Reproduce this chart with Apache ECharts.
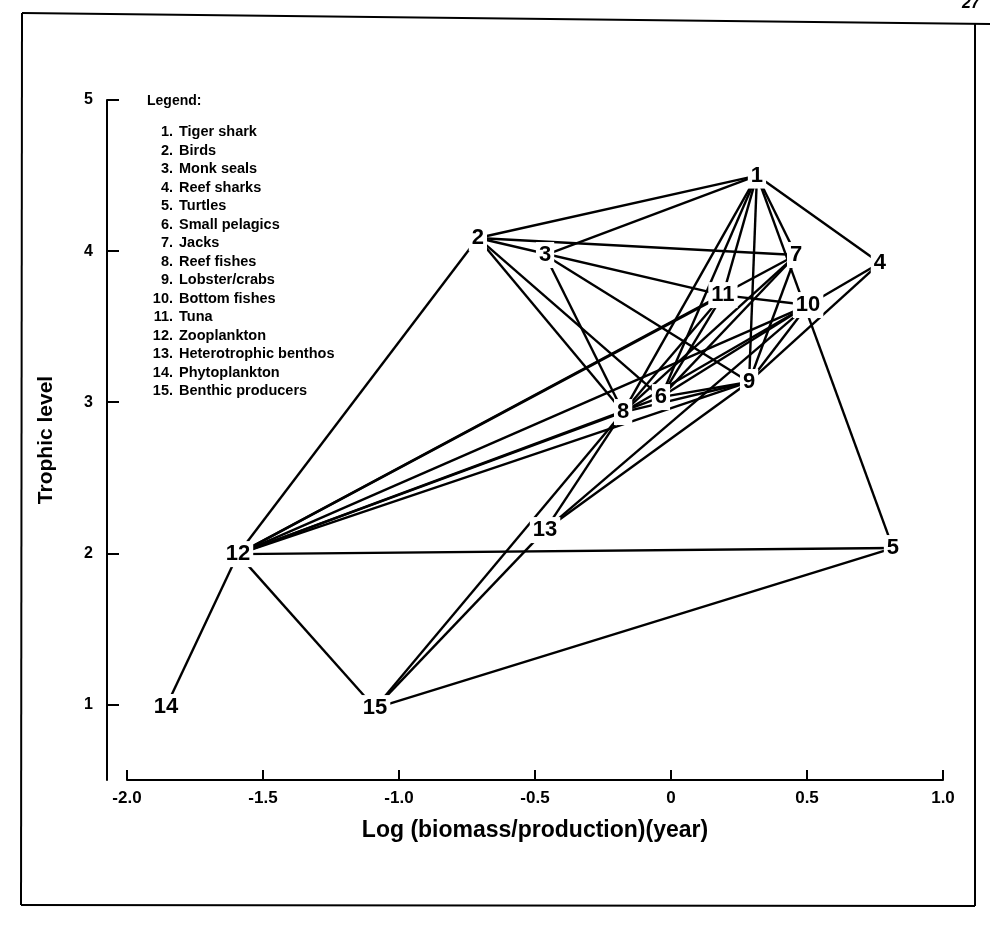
<!DOCTYPE html>
<html><head><meta charset="utf-8">
<script src="https://cdn.jsdelivr.net/npm/echarts@6/dist/echarts.min.js"></script>
<style>html,body{margin:0;padding:0;background:#fff}#c{width:990px;height:929px}</style>
</head><body><div id="c"></div>
<script>
// ---- data ----
const nodeIds = ['1','2','3','4','5','6','7','8','9','10','11','12','13','14','15'];
const nodeNames = ['Tiger shark','Birds','Monk seals','Reef sharks','Turtles','Small pelagics','Jacks','Reef fishes','Lobster/crabs','Bottom fishes','Tuna','Zooplankton','Heterotrophic benthos','Phytoplankton','Benthic producers'];
const logBP   = [0.316, -0.710, -0.463, 0.768, 0.816, -0.037, 0.460, -0.176, 0.287, 0.504, 0.191, -1.592, -0.463, -1.857, -1.088];
const trophic = [4.50, 4.087, 3.974, 3.921, 2.035, 3.034, 3.974, 2.935, 3.134, 3.643, 3.709, 1.995, 2.154, 0.983, 0.976];
const links = [
  [1,2],[1,3],[1,4],[1,5],[1,7],[1,11],[1,9],[1,6],[1,8],
  [2,7],[2,11],[11,10],[2,6],[2,8],[2,12],
  [3,8],[3,9],
  [4,10],[4,9],
  [7,6],[7,8],[7,9],[7,12],
  [10,6],[10,8],[10,9],[10,12],[10,13],
  [11,6],[11,8],[11,12],
  [9,6],[9,8],[9,12],[9,13],
  [8,12],[8,13],[8,15],
  [6,12],
  [5,12],[5,15],
  [12,14],[12,15],
  [13,15]
];
const xTickValues = [-2.0,-1.5,-1.0,-0.5,0,0.5,1.0];
const yTickValues = [1,2,3,4,5];
const xTitle = 'Log (biomass/production)(year)';
const yTitle = 'Trophic level';
const legendTitle = 'Legend:';

// ---- chart ----
const FONT = '"Liberation Sans", Arial, Helvetica, sans-serif';
const chart = echarts.init(document.getElementById('c'), null, {renderer:'canvas'});

const lineData = links.map(([a,b]) => ({coords: [[logBP[a-1], trophic[a-1]], [logBP[b-1], trophic[b-1]]]}));
const nodeData = nodeIds.map((id,i) => ({name:id, value:[logBP[i], trophic[i]]}));

const graphics = [];
// frame (scan border)
const frame = [[22,13,990,24],[22,13,21,905],[21,905,975,906],[975,24,975,906]];
frame.forEach(f => graphics.push({type:'line', shape:{x1:f[0],y1:f[1],x2:f[2],y2:f[3]}, style:{stroke:'#000', lineWidth:2}, silent:true}));
graphics.push({type:'text', left:962, top:-4, style:{text:'27', font:'italic bold 16px '+FONT, fill:'#000'}});
// legend text
graphics.push({type:'text', x:147, y:101, style:{text:legendTitle, font:'bold 14px '+FONT, fill:'#000', verticalAlign:'middle'}});
nodeNames.forEach((nm,i) => {
  const y = 132 + i*18.5;
  graphics.push({type:'text', x:173, y:y, style:{text:nodeIds[i]+'.', font:'bold 14.5px '+FONT, fill:'#000', align:'right', verticalAlign:'middle'}});
  graphics.push({type:'text', x:179, y:y, style:{text:nm, font:'bold 14.5px '+FONT, fill:'#000', verticalAlign:'middle'}});
});

chart.setOption({
  animation:false,
  backgroundColor:'#fff',
  grid:{left:127, right:47, top:100, bottom:149},
  xAxis:{
    type:'value', min:-2, max:1, interval:0.5,
    name:xTitle, nameLocation:'middle', nameGap:39,
    nameTextStyle:{fontSize:23, fontWeight:'bold', fontFamily:FONT, color:'#000'},
    axisLine:{show:true, onZero:false, lineStyle:{color:'#000', width:2}},
    axisTick:{show:true, inside:true, length:10, lineStyle:{color:'#000', width:2}},
    axisLabel:{show:true, margin:10, fontSize:17, fontWeight:'bold', fontFamily:FONT, color:'#000',
      formatter: v => (Math.abs(v) < 1e-9 ? '0' : v.toFixed(1)), customValues:xTickValues},
    splitLine:{show:false}
  },
  yAxis:{
    type:'value', min:0.5, max:5, offset:20,
    name:yTitle, nameLocation:'middle', nameGap:50, nameRotate:90,
    nameTextStyle:{fontSize:21, fontWeight:'bold', fontFamily:FONT, color:'#000'},
    axisLine:{show:true, onZero:false, lineStyle:{color:'#000', width:2}},
    axisTick:{show:true, inside:true, length:12, customValues:yTickValues, lineStyle:{color:'#000', width:2}},
    axisLabel:{show:true, margin:14, fontSize:16, fontWeight:'bold', fontFamily:FONT, color:'#000', customValues:yTickValues},
    splitLine:{show:false}
  },
  series:[
    {type:'lines', coordinateSystem:'cartesian2d', z:2, silent:true,
     lineStyle:{color:'#000', width:2.4, opacity:1}, data:lineData},
    {type:'scatter', z:5, symbolSize:0, itemStyle:{color:'#fff', opacity:1}, silent:true,
     label:{show:true, position:'inside', formatter:'{b}', fontSize:22, fontWeight:'bold', fontFamily:FONT,
       color:'#000', opacity:1, textBorderWidth:0, backgroundColor:'#fff', padding:[2,3]},
     emphasis:{disabled:true},
     data:nodeData}
  ],
  graphic:graphics
});
</script></body></html>
